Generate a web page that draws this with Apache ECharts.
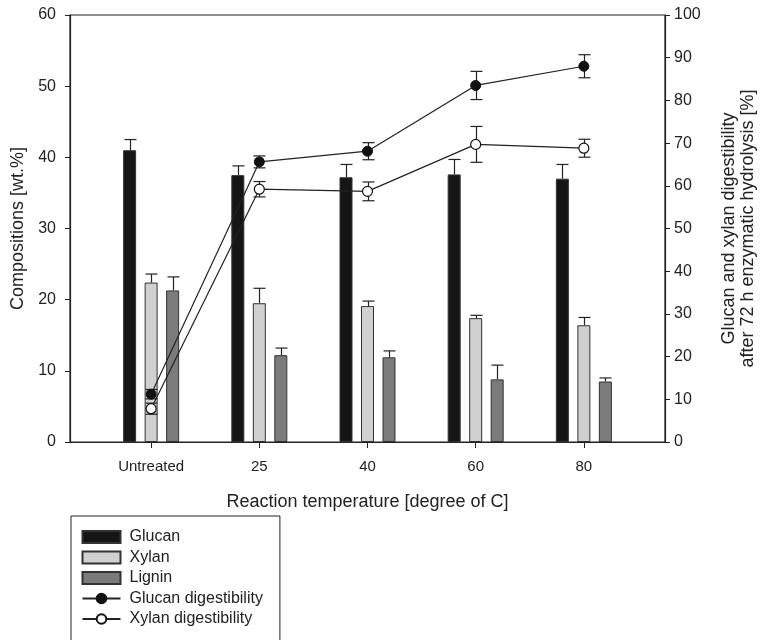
<!DOCTYPE html>
<html><head><meta charset="utf-8">
<script src="https://cdn.jsdelivr.net/npm/echarts@6/dist/echarts.min.js"></script>
<style>html,body{margin:0;padding:0;background:#fff}#c{width:762px;height:640px}</style>
</head><body><div id="c"></div>
<script>
// ---- data ----
const categories = ['Untreated', '25', '40', '60', '80'];
const glucan      = [41.0, 37.5, 37.2, 37.6, 37.0];
const glucanErr   = [1.5, 1.3, 1.8, 2.1, 2.0];
const xylan       = [22.4, 19.5, 19.1, 17.4, 16.4];
const xylanErr    = [1.2, 2.1, 0.7, 0.4, 1.1];
const lignin      = [21.3, 12.2, 11.9, 8.8, 8.5];
const ligninErr   = [1.9, 1.0, 0.9, 2.0, 0.5];
const glucanDig    = [11.2, 65.6, 68.1, 83.5, 88.0];
const glucanDigErr = [1.1, 1.4, 2.0, 3.3, 2.7];
const xylanDig     = [7.8, 59.2, 58.7, 69.7, 68.8];
const xylanDigErr  = [1.3, 1.8, 2.2, 4.2, 2.1];
const leftTicks  = [0, 10, 20, 30, 40, 50, 60];
const rightTicks = [0, 10, 20, 30, 40, 50, 60, 70, 80, 90, 100];

// ---- chart ----
const FONT = "'Liberation Sans', Arial, Helvetica, sans-serif";
const INK = '#222';
const xPos = categories.map((c, i) => i);
const pairs = vals => vals.map((v, i) => [i, v]);
const BAR_W = 13, BAR_STEP = 21.5;

function barErr(vals, errs, k) {
  return {
    type: 'custom', xAxisIndex: 0, yAxisIndex: 0, z: 4, silent: true,
    data: vals.map((v, i) => [i, v, v + errs[i]]),
    encode: { x: 0, y: [1, 2] },
    renderItem(params, api) {
      const x = api.value(0);
      const p1 = api.coord([x, api.value(1)]);
      const p2 = api.coord([x, api.value(2)]);
      const cx = Math.round(p1[0] + k * BAR_STEP) + 0.5;
      const st = { stroke: INK, lineWidth: 1.2 };
      return { type: 'group', children: [
        { type: 'line', shape: { x1: cx, y1: p1[1], x2: cx, y2: p2[1] }, style: st },
        { type: 'line', shape: { x1: cx - 6, y1: p2[1], x2: cx + 6, y2: p2[1] }, style: st }
      ]};
    }
  };
}
function digErr(vals, errs) {
  return {
    type: 'custom', xAxisIndex: 0, yAxisIndex: 1, z: 6, silent: true,
    data: vals.map((v, i) => [i, v - errs[i], v + errs[i]]),
    encode: { x: 0, y: [1, 2] },
    renderItem(params, api) {
      const x = api.value(0);
      const p1 = api.coord([x, api.value(1)]);
      const p2 = api.coord([x, api.value(2)]);
      const cx = Math.round(p1[0]) + 0.5;
      const st = { stroke: INK, lineWidth: 1.2 };
      return { type: 'group', children: [
        { type: 'line', shape: { x1: cx, y1: p1[1], x2: cx, y2: p2[1] }, style: st },
        { type: 'line', shape: { x1: cx - 6, y1: p1[1], x2: cx + 6, y2: p1[1] }, style: st },
        { type: 'line', shape: { x1: cx - 6, y1: p2[1], x2: cx + 6, y2: p2[1] }, style: st }
      ]};
    }
  };
}
function barSeries(name, vals, color) {
  return {
    name, type: 'bar', xAxisIndex: 0, yAxisIndex: 0, data: pairs(vals),
    barWidth: BAR_W, barGap: ((BAR_STEP - BAR_W) / BAR_W * 100) + '%', z: 2,
    itemStyle: { color, borderColor: '#333', borderWidth: 1 }
  };
}

const chart = echarts.init(document.getElementById('c'), null, { renderer: 'canvas' });
chart.setOption({
  animation: false,
  backgroundColor: '#fff',
  textStyle: { fontFamily: FONT, color: INK },
  grid: { left: 70, right: 97, top: 15, bottom: 198, containLabel: false, outerBoundsMode: 'none',
          show: true, borderColor: INK, borderWidth: 1.2, backgroundColor: 'transparent' },
  legend: {
    orient: 'vertical', left: 71, top: 516, height: 300, selectedMode: false,
    data: [
      { name: 'Glucan', icon: 'rect' },
      { name: 'Xylan', icon: 'rect' },
      { name: 'Lignin', icon: 'rect' },
      { name: 'Glucan digestibility' },
      { name: 'Xylan digestibility' }
    ],
    itemWidth: 38, itemHeight: 12, itemGap: 4.5,
    padding: [13, 17, 40, 10.5],
    borderColor: INK, borderWidth: 1,
    textStyle: { fontSize: 16, color: INK, fontFamily: FONT, lineHeight: 16, padding: [0, 0, 0, 4] }
  },
  xAxis: {
    type: 'value', min: -0.75, max: 4.75,
    splitLine: { show: false },
    axisLine: { show: true, onZero: false, lineStyle: { color: INK, width: 1.2 } },
    axisTick: { show: true, customValues: xPos, length: 6, inside: false, lineStyle: { color: INK } },
    axisLabel: { customValues: xPos, formatter: v => categories[Math.round(v)],
                 margin: 17, fontSize: 15, color: INK, fontFamily: FONT },
    name: 'Reaction temperature [degree of C]', nameLocation: 'middle', nameGap: 51,
    nameTextStyle: { fontSize: 18, color: INK, fontFamily: FONT }
  },
  yAxis: [
    {
      type: 'value', position: 'left', min: 0, max: 60, interval: 10,
      splitLine: { show: false },
      axisLine: { show: true, onZero: false, lineStyle: { color: INK, width: 1.2 } },
      axisTick: { show: true, length: 5, inside: false, lineStyle: { color: INK } },
      axisLabel: { customValues: leftTicks, margin: 14, fontSize: 16, color: INK, fontFamily: FONT },
      name: 'Compositions [wt.%]', nameLocation: 'middle', nameGap: 42, nameRotate: 90,
      nameTextStyle: { fontSize: 18, color: INK, fontFamily: FONT }
    },
    {
      type: 'value', position: 'right', min: 0, max: 100, interval: 10,
      splitLine: { show: false },
      axisLine: { show: true, onZero: false, lineStyle: { color: INK, width: 1.2 } },
      axisTick: { show: true, length: 5, inside: false, lineStyle: { color: INK } },
      axisLabel: { customValues: rightTicks, margin: 9, fontSize: 16, color: INK, fontFamily: FONT },
      name: 'Glucan and xylan digestibility\nafter 72 h enzymatic hydrolysis [%]',
      nameLocation: 'middle', nameGap: 55, nameRotate: 90,
      nameTextStyle: { fontSize: 18, color: INK, fontFamily: FONT, lineHeight: 19, align: 'center' }
    }
  ],
  series: [
    barSeries('Glucan', glucan, '#151515'),
    barSeries('Xylan', xylan, '#d0d0d0'),
    barSeries('Lignin', lignin, '#7b7b7b'),
    barErr(glucan, glucanErr, -1),
    barErr(xylan, xylanErr, 0),
    barErr(lignin, ligninErr, 1),
    digErr(glucanDig, glucanDigErr),
    digErr(xylanDig, xylanDigErr),
    {
      name: 'Glucan digestibility', type: 'line', xAxisIndex: 0, yAxisIndex: 1,
      data: pairs(glucanDig), symbol: 'circle', symbolSize: 10, showSymbol: true, z: 10,
      lineStyle: { color: INK, width: 1.2 },
      itemStyle: { color: '#111', borderColor: '#111', borderWidth: 1 }
    },
    {
      name: 'Xylan digestibility', type: 'line', xAxisIndex: 0, yAxisIndex: 1,
      data: pairs(xylanDig), symbol: 'circle', symbolSize: 10, showSymbol: true, z: 10,
      lineStyle: { color: INK, width: 1.2 },
      itemStyle: { color: '#fff', borderColor: '#111', borderWidth: 1.2 }
    }
  ]
});
</script></body></html>
